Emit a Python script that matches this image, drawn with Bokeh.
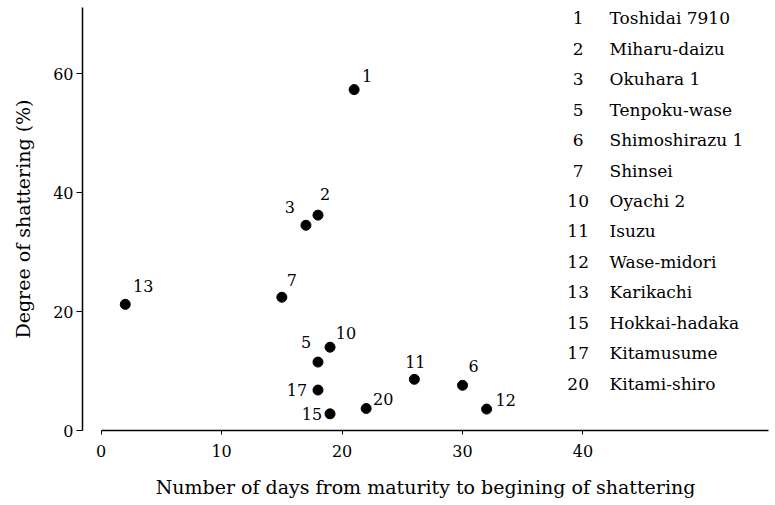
from bokeh.plotting import figure
from bokeh.models import ColumnDataSource, Range1d, FixedTicker
from bokeh.core.properties import value
from bokeh.embed import file_html
from bokeh.resources import INLINE

# ---- data ----
variety_ids = ["1", "2", "3", "5", "6", "7", "10", "11", "12", "13", "15", "17", "20"]
variety_names = ["Toshidai 7910", "Miharu-daizu", "Okuhara 1", "Tenpoku-wase",
                 "Shimoshirazu 1", "Shinsei", "Oyachi 2", "Isuzu", "Wase-midori",
                 "Karikachi", "Hokkai-hadaka", "Kitamusume", "Kitami-shiro"]
days_to_shatter = [21, 18, 17, 18, 30, 15, 19, 26, 32, 2, 19, 18, 22]
shattering_pct = [57.3, 36.2, 34.5, 11.5, 7.6, 22.4, 14.0, 8.6, 3.6, 21.2, 2.8, 6.8, 3.7]
x_ticks = [0, 10, 20, 30, 40]
y_ticks = [0, 20, 40, 60]

# ---- layout / style (not data) ----
label_dx = [13, 7, -16, -12, 11, 10, 16, 1, 19, 18, -18, -21, 17]
label_dy = [-14, -21, -18, -20, -19, -17, -14, -17, -9, -18, 0, 0, -9]
FONT = "DejaVu Serif"
LEG_X_NUM, LEG_X_NAME, LEG_Y_TOP, LEG_STEP = 39.6, 42.2, 69.3, 5.12

p = figure(width=775, height=505, output_backend="svg", toolbar_location=None,
           x_range=Range1d(-1.55, 55.4), y_range=Range1d(0, 71.1),
           min_border_left=82, min_border_right=7, min_border_top=7,
           min_border_bottom=75)
p.outline_line_color = None
p.xgrid.visible = False
p.ygrid.visible = False
p.background_fill_color = "white"
p.border_fill_color = "white"

src = ColumnDataSource(dict(x=days_to_shatter, y=shattering_pct, t=variety_ids,
                            dx=label_dx, dy=label_dy))
p.scatter("x", "y", source=src, size=10, color="black")
p.text("x", "y", text="t", source=src, x_offset="dx", y_offset="dy",
       text_align="center", text_baseline="middle", text_font=value(FONT),
       text_font_size="16px", text_color="black")

# legend-like list of varieties
n = len(variety_ids)
leg_y = [LEG_Y_TOP - i * LEG_STEP for i in range(n)]
leg_src = ColumnDataSource(dict(xn=[LEG_X_NUM] * n, xt=[LEG_X_NAME] * n, y=leg_y,
                                num=variety_ids, name=variety_names))
p.text("xn", "y", text="num", source=leg_src, text_align="center",
       text_baseline="middle", text_font=value(FONT), text_font_size="17px",
       text_color="black")
p.text("xt", "y", text="name", source=leg_src, text_align="left",
       text_baseline="middle", text_font=value(FONT), text_font_size="17px",
       text_color="black")

# axes
xa = p.xaxis[0]
xa.ticker = FixedTicker(ticks=x_ticks)
xa.bounds = (0, 55.4)
xa.axis_label = "Number of days from maturity to begining of shattering"
xa.axis_label_text_font = FONT
xa.axis_label_text_font_size = "19px"
xa.axis_label_text_font_style = "normal"
xa.axis_label_text_color = "black"
xa.axis_label_standoff = 16
xa.major_label_text_font = FONT
xa.major_label_text_font_size = "16px"
xa.major_label_text_color = "black"
xa.major_label_standoff = 10
xa.major_tick_out = 4
xa.major_tick_in = 0
xa.minor_tick_out = 0
xa.minor_tick_in = 0
xa.axis_line_color = "black"
xa.axis_line_width = 1.5
xa.major_tick_line_color = "black"

ya = p.yaxis[0]
ya.ticker = FixedTicker(ticks=y_ticks)
ya.axis_label = "Degree of shattering (%)"
ya.axis_label_text_font = FONT
ya.axis_label_text_font_size = "19px"
ya.axis_label_text_font_style = "normal"
ya.axis_label_text_color = "black"
ya.axis_label_standoff = 16
ya.major_label_text_font = FONT
ya.major_label_text_font_size = "16px"
ya.major_label_text_color = "black"
ya.major_label_standoff = 3
ya.major_label_orientation = "horizontal"
ya.major_tick_out = 6
ya.major_tick_in = 0
ya.minor_tick_out = 0
ya.minor_tick_in = 0
ya.axis_line_color = "black"
ya.axis_line_width = 1.5
ya.major_tick_line_color = "black"

open("out.html", "w").write(file_html(p, INLINE))
